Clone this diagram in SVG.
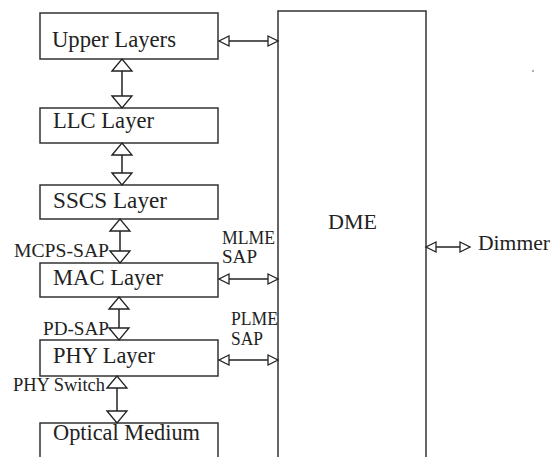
<svg xmlns="http://www.w3.org/2000/svg" width="552" height="457" viewBox="0 0 552 457">
<style>
.box{fill:#fff;stroke:#333;stroke-width:1.5}
.ln{stroke:#222;stroke-width:1.5;fill:none}
.hd{fill:#fff;stroke:#222;stroke-width:1.3}
text{font-family:'Liberation Serif','Times New Roman',serif;fill:#222}
</style>
<rect width="552" height="457" fill="#fff"/>
<g id="upper"><rect class="box" x="40" y="13" width="178" height="46"/><text style="font-family:'Liberation Serif',serif" font-size="22.5" x="52" y="47" textLength="124" lengthAdjust="spacingAndGlyphs">Upper Layers</text></g>
<g id="llc"><rect class="box" x="40" y="108" width="178" height="35"/><text style="font-family:'Liberation Serif',serif" font-size="22.5" x="53" y="128" textLength="101" lengthAdjust="spacingAndGlyphs">LLC Layer</text></g>
<g id="sscs"><rect class="box" x="40" y="185" width="178" height="34"/><text style="font-family:'Liberation Serif',serif" font-size="22.5" x="53" y="208" textLength="114" lengthAdjust="spacingAndGlyphs">SSCS Layer</text></g>
<g id="mac"><rect class="box" x="40" y="263" width="178" height="34"/><text style="font-family:'Liberation Serif',serif" font-size="22.5" x="53" y="285" textLength="110" lengthAdjust="spacingAndGlyphs">MAC Layer</text></g>
<g id="phy"><rect class="box" x="40" y="340" width="178" height="36"/><text style="font-family:'Liberation Serif',serif" font-size="22.5" x="53" y="363" textLength="102" lengthAdjust="spacingAndGlyphs">PHY Layer</text></g>
<g id="optical"><rect class="box" x="40" y="423" width="178" height="40"/><text style="font-family:'Liberation Serif',serif" font-size="22.5" x="53" y="440" textLength="147" lengthAdjust="spacingAndGlyphs">Optical Medium</text></g>
<g id="dme"><rect class="box" x="278" y="11" width="148" height="452"/><text style="font-family:'Liberation Serif',serif" font-size="22" x="328" y="229" textLength="49" lengthAdjust="spacingAndGlyphs">DME</text></g>
<g id="connectors">
<line class="ln" x1="122" y1="59" x2="122" y2="108"/>
<polygon class="hd" points="112,71 122,59 132,71"/><polygon class="hd" points="112,96 122,108 132,96"/>
<line class="ln" x1="122" y1="143" x2="122" y2="185"/>
<polygon class="hd" points="112,155 122,143 132,155"/><polygon class="hd" points="112,173 122,185 132,173"/>
<line class="ln" x1="120" y1="219" x2="120" y2="263"/>
<polygon class="hd" points="110,231 120,219 130,231"/><polygon class="hd" points="110,251 120,263 130,251"/>
<line class="ln" x1="119" y1="297" x2="119" y2="340"/>
<polygon class="hd" points="109,309 119,297 129,309"/><polygon class="hd" points="109,328 119,340 129,328"/>
<line class="ln" x1="117" y1="376" x2="117" y2="423"/>
<polygon class="hd" points="107,388 117,376 127,388"/><polygon class="hd" points="107,411 117,423 127,411"/>
<line class="ln" x1="219" y1="41" x2="278" y2="41"/>
<polygon class="hd" points="229,36 219,41 229,46"/><polygon class="hd" points="268,36 278,41 268,46"/>
<line class="ln" x1="219" y1="279" x2="278" y2="279"/>
<polygon class="hd" points="229,274 219,279 229,284"/><polygon class="hd" points="268,274 278,279 268,284"/>
<line class="ln" x1="219" y1="360" x2="278" y2="360"/>
<polygon class="hd" points="229,355 219,360 229,365"/><polygon class="hd" points="268,355 278,360 268,365"/>
<line class="ln" x1="426" y1="247" x2="470" y2="247"/>
<polygon class="hd" points="436,242 426,247 436,252"/><polygon class="hd" points="460,242 470,247 460,252"/>
</g>
<g id="labels">
<text style="font-family:'Liberation Serif',serif" font-size="18" x="14" y="257" textLength="95" lengthAdjust="spacingAndGlyphs">MCPS-SAP</text>
<text style="font-family:'Liberation Serif',serif" font-size="18" x="222" y="244" textLength="53" lengthAdjust="spacingAndGlyphs">MLME</text>
<text style="font-family:'Liberation Serif',serif" font-size="18" x="222" y="263" textLength="35" lengthAdjust="spacingAndGlyphs">SAP</text>
<text style="font-family:'Liberation Serif',serif" font-size="18" x="43" y="335" textLength="66" lengthAdjust="spacingAndGlyphs">PD-SAP</text>
<text style="font-family:'Liberation Serif',serif" font-size="18" x="231" y="325" textLength="47" lengthAdjust="spacingAndGlyphs">PLME</text>
<text style="font-family:'Liberation Serif',serif" font-size="18" x="231" y="345" textLength="32" lengthAdjust="spacingAndGlyphs">SAP</text>
<text style="font-family:'Liberation Serif',serif" font-size="18" x="13" y="391" textLength="92" lengthAdjust="spacingAndGlyphs">PHY Switch</text>
<text style="font-family:'Liberation Serif',serif" font-size="21" x="478" y="250" textLength="72" lengthAdjust="spacingAndGlyphs">Dimmer</text>
<circle cx="533" cy="71" r="0.8" fill="#444"/>
</g>
</svg>
